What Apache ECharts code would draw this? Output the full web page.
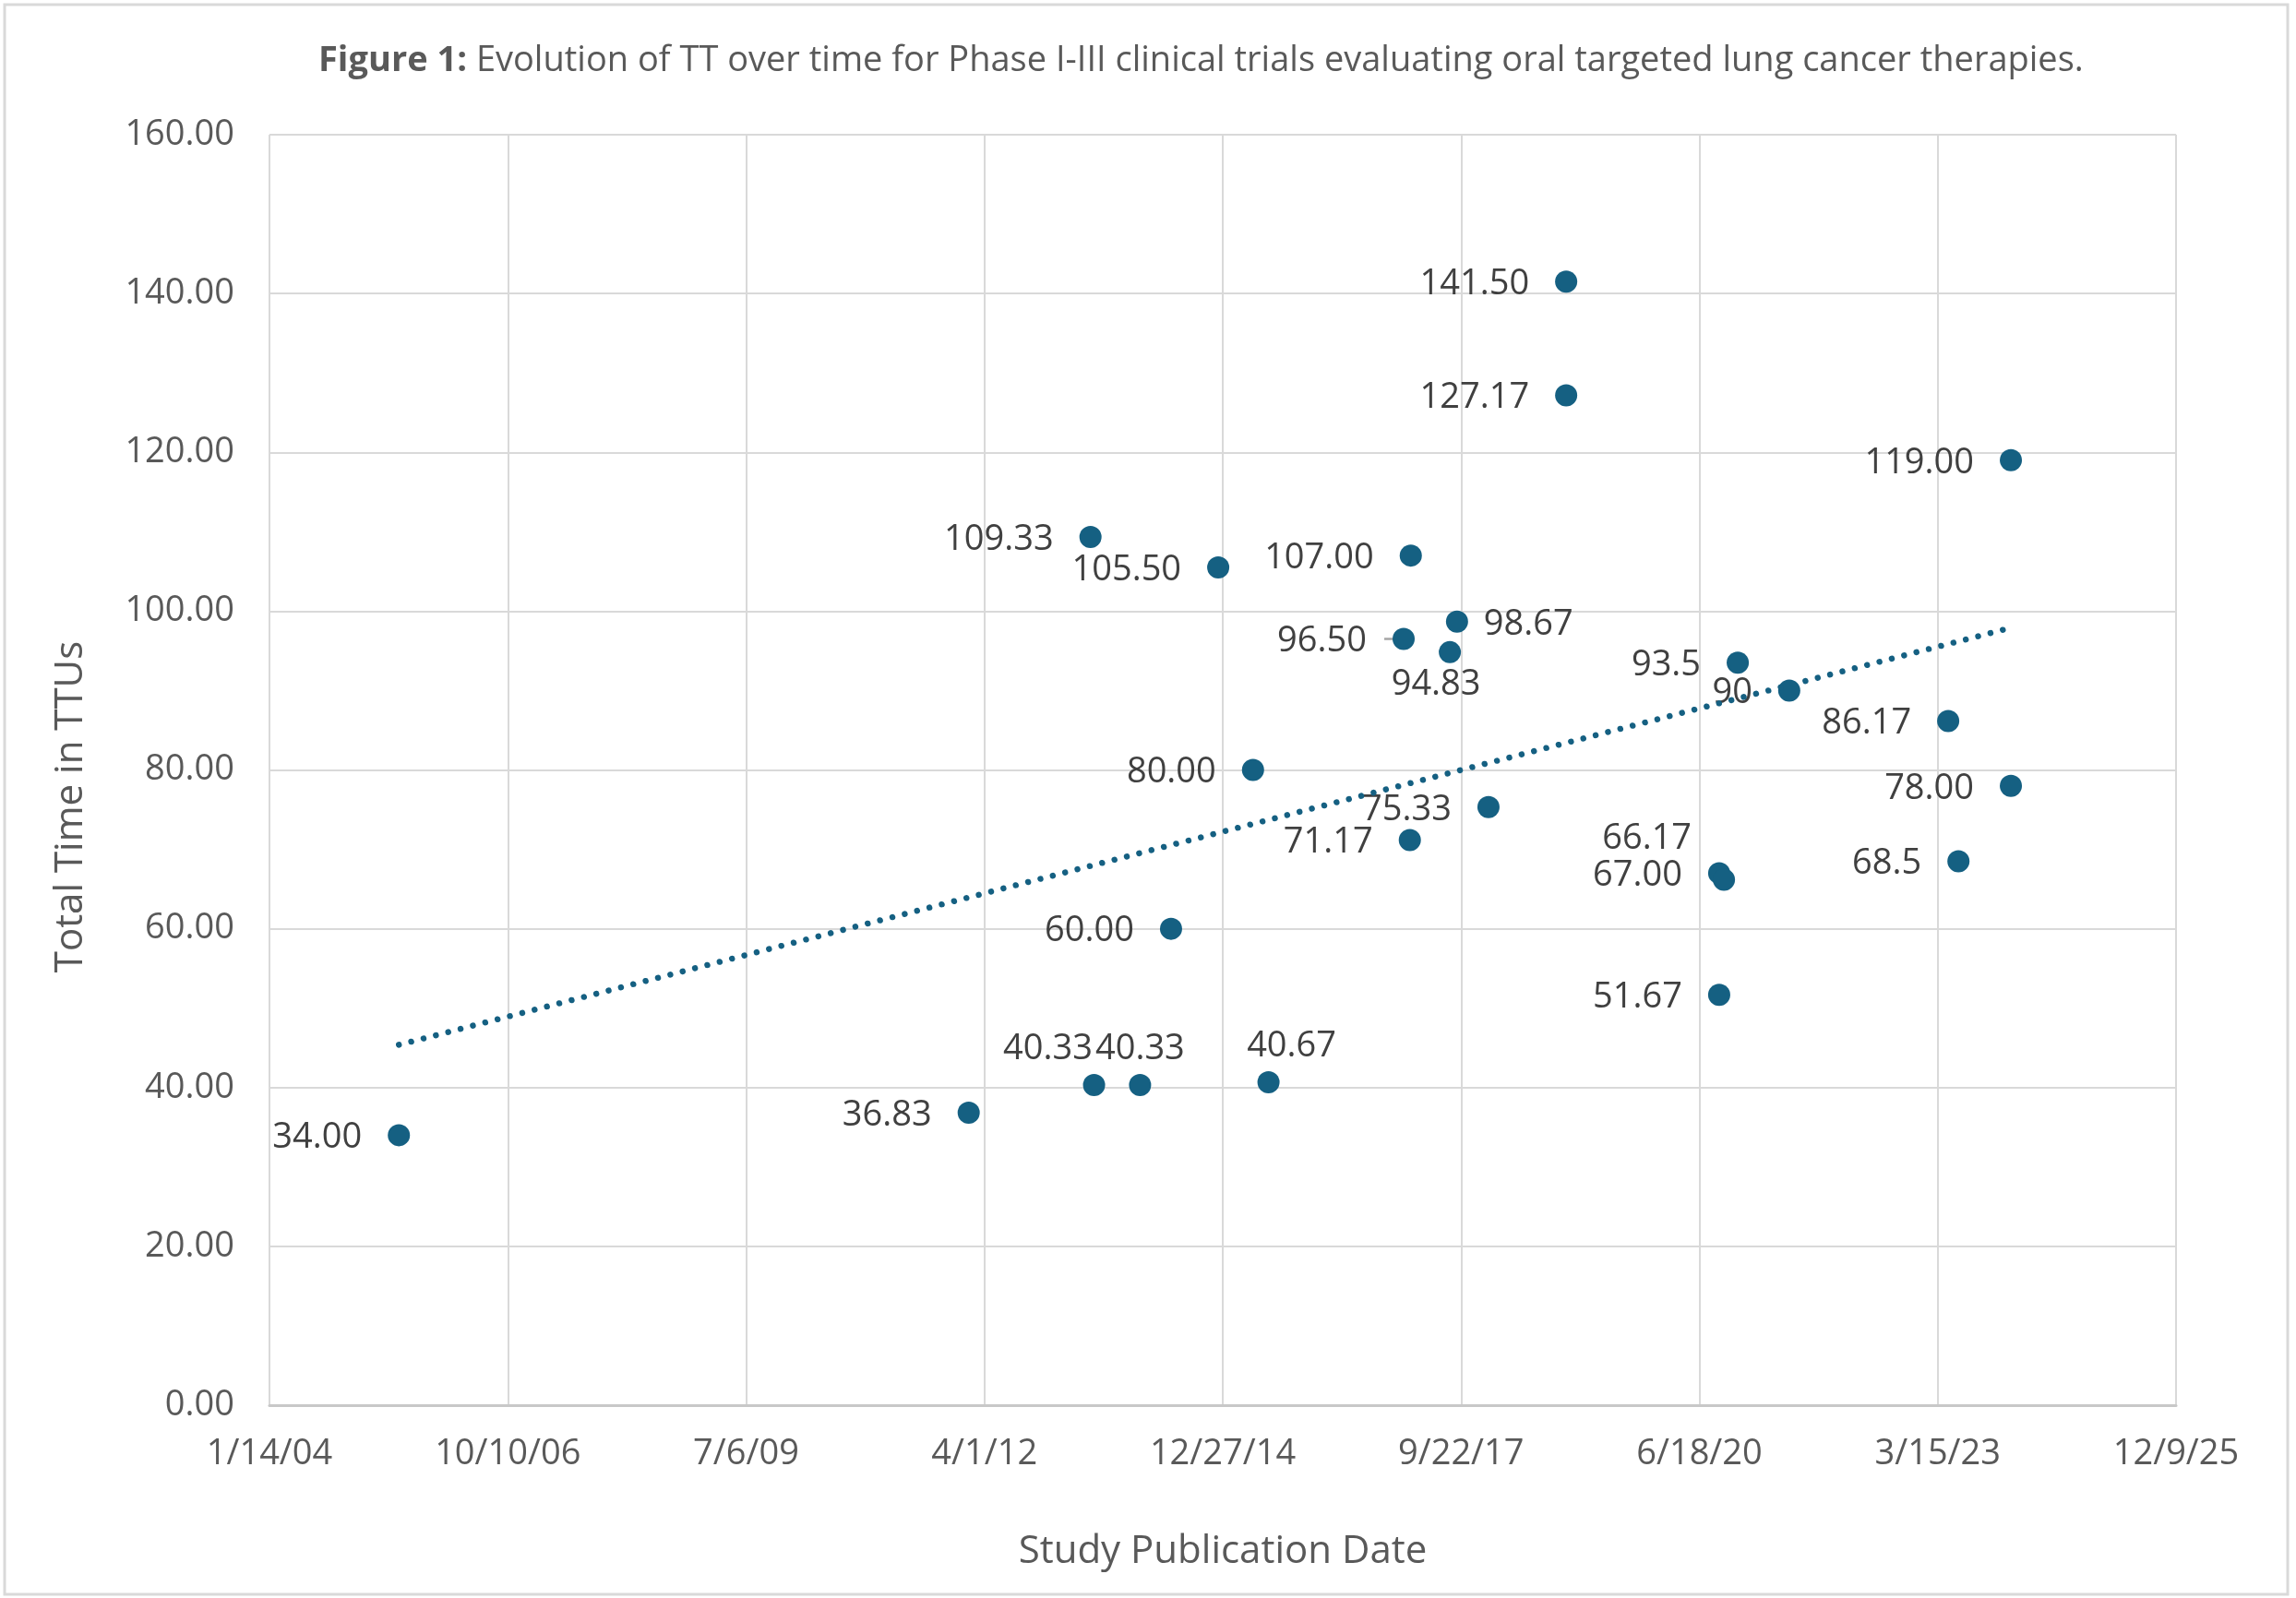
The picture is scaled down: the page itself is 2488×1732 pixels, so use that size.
<!DOCTYPE html>
<html>
<head>
<meta charset="utf-8">
<script src="https://cdn.jsdelivr.net/npm/echarts@6/dist/echarts.min.js"></script>
<style>
  html, body { margin: 0; padding: 0; background: #ffffff; }
  #chart { width: 2488px; height: 1732px; }
</style>
</head>
<body>
<div id="chart"></div>
<script>
// ---- Data ----
// Study publication dates as Excel date serial numbers (1/14/04 = 38000)
const pubDateSerial = [38543, 40934, 41460, 41653, 42192, 41783, 42127, 41981, 41445, 42789,
                       42759, 42983, 42953, 42785, 43115, 43441, 43441, 44161, 44377, 44083,
                       44103, 44083, 45044, 45087, 45307, 45307];
// Total time in TTUs
const totalTime = [34.00, 36.83, 40.33, 40.33, 40.67, 60.00, 80.00, 105.50, 109.33, 107.00,
                   96.50, 98.67, 94.83, 71.17, 75.33, 141.50, 127.17, 93.5, 90, 67.00,
                   66.17, 51.67, 86.17, 68.5, 119.00, 78.00];
// Data label texts as shown
const labelText = ['34.00', '36.83', '40.33', '40.33', '40.67', '60.00', '80.00', '105.50', '109.33', '107.00',
                   '96.50', '98.67', '94.83', '71.17', '75.33', '141.50', '127.17', '93.5', '90', '67.00',
                   '66.17', '51.67', '86.17', '68.5', '119.00', '78.00'];
// Axis ticks
const xTickMin = 38000, xTickMax = 46000, xTickStep = 1000;
const yTickMin = 0, yTickMax = 160, yTickStep = 20;

const titleBold = 'Figure 1:';
const titleRest = ' Evolution of TT over time for Phase I-III clinical trials evaluating oral targeted lung cancer therapies.';
const xAxisTitle = 'Study Publication Date';
const yAxisTitle = 'Total Time in TTUs';

// ---- Helpers ----
function serialToLabel(serial) {
  const d = new Date(Date.UTC(1899, 11, 30) + Math.round(serial) * 86400000);
  return (d.getUTCMonth() + 1) + '/' + d.getUTCDate() + '/' + String(d.getUTCFullYear()).slice(-2);
}

// Linear least-squares trendline from the data
function linearFit(xs, ys) {
  const n = xs.length;
  let mx = 0, my = 0;
  for (let i = 0; i < n; i++) { mx += xs[i]; my += ys[i]; }
  mx /= n; my /= n;
  let sxy = 0, sxx = 0;
  for (let i = 0; i < n; i++) { sxy += (xs[i] - mx) * (ys[i] - my); sxx += (xs[i] - mx) * (xs[i] - mx); }
  const slope = sxy / sxx;
  return { slope, intercept: my - slope * mx };
}
const fit = linearFit(pubDateSerial, totalTime);
const xMinData = Math.min(...pubDateSerial), xMaxData = Math.max(...pubDateSerial);
const trendData = [
  [xMinData, fit.intercept + fit.slope * xMinData],
  [xMaxData, fit.intercept + fit.slope * xMaxData]
];

// ---- Label placement (style only) ----
const FONT = '"Open Sans", "Noto Sans", sans-serif';
const MARKER_COLOR = '#156082';
const labelOverrides = {
  2:  { position: 'top', distance: 8, offset: [-50, 0] },
  3:  { position: 'top', distance: 8, offset: [0, 0] },
  4:  { position: 'top', distance: 8, offset: [25, 0] },
  11: { position: 'right', distance: 17, offset: [0, 3] },
  12: { position: 'bottom', distance: 0, offset: [-15, 4] },
  20: { position: 'left', distance: 28, offset: [5, -44] }
};
const LEADER_INDEX = 10; // "96.50" has a short leader line in the reference

const scatterData = pubDateSerial.map((x, i) => {
  const item = { value: [x, totalTime[i]], labelText: labelText[i] };
  if (labelOverrides[i]) item.label = labelOverrides[i];
  return item;
});

const chart = echarts.init(document.getElementById('chart'), null, { renderer: 'canvas' });

const option = {
  backgroundColor: '#ffffff',
  animation: false,
  textStyle: { fontFamily: FONT },
  title: {
    text: '{b|' + titleBold + '}{r|' + titleRest + '}',
    left: 340,
    top: 42,
    textStyle: {
      rich: {
        b: { fontFamily: FONT, fontSize: 38, fontWeight: 'bold', color: '#595959' },
        r: { fontFamily: FONT, fontSize: 38, fontWeight: 'normal', color: '#595959' }
      }
    }
  },
  grid: { left: 292, right: 130, top: 146, bottom: 209, containLabel: false },
  xAxis: {
    type: 'value',
    min: xTickMin, max: xTickMax, interval: xTickStep,
    name: xAxisTitle,
    nameLocation: 'middle',
    nameGap: 138,
    nameTextStyle: { fontFamily: FONT, fontSize: 42, color: '#595959' },
    axisLine: { show: true, lineStyle: { color: '#c8c8c8', width: 3 } },
    axisTick: { show: false },
    axisLabel: {
      formatter: (v) => serialToLabel(v),
      fontFamily: FONT, fontSize: 38, color: '#595959', margin: 34
    },
    splitLine: { show: true, lineStyle: { color: '#d9d9d9', width: 2 } }
  },
  yAxis: {
    type: 'value',
    min: yTickMin, max: yTickMax, interval: yTickStep,
    name: yAxisTitle,
    nameLocation: 'middle',
    nameRotate: 90,
    nameGap: 194,
    nameTextStyle: { fontFamily: FONT, fontSize: 42, color: '#595959', padding: [0, 80, 0, 0] },
    axisLine: { show: false },
    axisTick: { show: false },
    axisLabel: {
      formatter: (v) => v.toFixed(2),
      fontFamily: FONT, fontSize: 38, color: '#595959', margin: 38
    },
    splitLine: { show: true, lineStyle: { color: '#d9d9d9', width: 2 } }
  },
  series: [
    {
      type: 'scatter',
      data: scatterData,
      symbol: 'circle',
      symbolSize: 24,
      itemStyle: { color: MARKER_COLOR, opacity: 1 },
      label: {
        show: true,
        position: 'left',
        distance: 28,
        offset: [0, 3],
        formatter: (p) => p.data.labelText,
        fontFamily: FONT, fontSize: 38, color: '#404040'
      },
      z: 3
    },
    {
      type: 'line',
      data: trendData,
      showSymbol: false,
      symbol: 'none',
      lineStyle: { color: MARKER_COLOR, width: 6.5, type: [0.01, 13.8], cap: 'round' },
      silent: true,
      z: 4
    }
  ]
};
chart.setOption(option);

// Chart-area border and the short leader line of one label (positioned through the axes)
const lp = chart.convertToPixel({ gridIndex: 0 }, [pubDateSerial[LEADER_INDEX], totalTime[LEADER_INDEX]]);
chart.setOption({
  graphic: [
    {
      type: 'rect',
      shape: { x: 5, y: 5, width: 2474, height: 1723 },
      style: { fill: 'none', stroke: '#d9d9d9', lineWidth: 3 },
      z: -10, silent: true
    },
    {
      type: 'line',
      shape: { x1: lp[0] - 21, y1: lp[1], x2: lp[0], y2: lp[1] },
      style: { stroke: '#a6a6a6', lineWidth: 2.5 },
      z: 1, silent: true
    }
  ]
});
</script>
</body>
</html>
